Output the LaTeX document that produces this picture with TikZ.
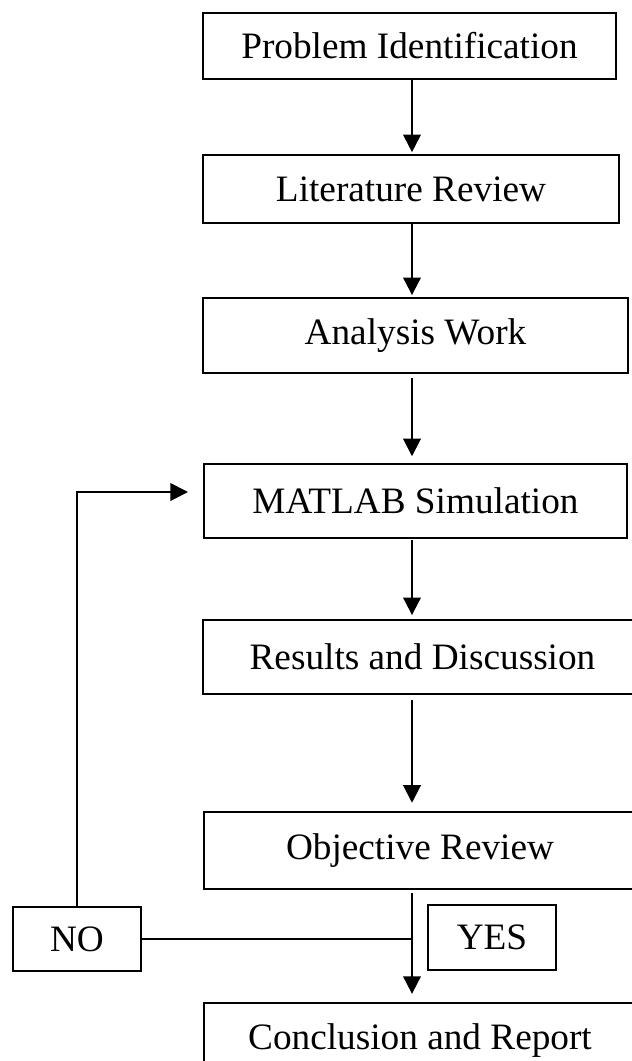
\documentclass[tikz,border=0pt]{standalone}
\usepackage{fontspec}
\setmainfont{Liberation Serif}
\usetikzlibrary{positioning,arrows.meta}
\tikzset{>={Triangle[length=12.5pt,width=12.5pt]}}
\tikzset{
  stage/.style={draw, line width=1.4pt, outer sep=0pt, inner sep=0pt,
    font=\fontsize{26.5}{30}\selectfont},
  flow/.style={->, line width=1.4pt}
}

\begin{document}
\begin{tikzpicture}[x=0.025cm, y=-0.025cm]
      \useasboundingbox (0,0) rectangle (632,1061);
      \clip (0,0) rectangle (632,1061);
      \coordinate (spine) at (412,0);
      \node[stage, minimum width=10.33cm, minimum height=1.65cm] (prob) at (409.5,46) {Problem Identification};
      \node[stage, minimum width=10.4cm, minimum height=1.7cm] (lit) at (411,189) {Literature Review};
      \node[stage, minimum width=10.63cm, minimum height=1.88cm] (anal) at (415.5,335.5) {Analysis Work};
      \node[stage, minimum width=10.58cm, minimum height=1.85cm] (sim) at (415.5,501) {MATLAB Simulation};
      \node[stage, minimum width=10.98cm, minimum height=1.85cm] (res) at (422.5,657) {Results and Discussion};
      \node[stage, minimum width=10.8cm, minimum height=1.93cm] (obj) at (420,850.5) {Objective Review};
      \node[stage, minimum width=10.8cm, minimum height=1.9cm] (conc) at (420,1041) {Conclusion and Report};
      \node[stage, minimum width=3.2cm, minimum height=1.6cm] (no) at (77,939) {NO};
      \node[stage, minimum width=3.2cm, minimum height=1.63cm] (yes) at (492,937.5) {YES};
      \coordinate (loopend) at (188,492);
      \draw[flow, shorten >=2pt] (prob.south -| spine) -- (lit.north -| spine);
      \draw[flow, shorten >=2pt] (lit.south -| spine) -- (anal.north -| spine);
      \draw[flow, shorten <=3.5pt, shorten >=5.5pt] (anal.south -| spine) -- (sim.north -| spine);
      \draw[flow, shorten <=1.5pt, shorten >=3.5pt] (sim.south -| spine) -- (res.north -| spine);
      \draw[flow, shorten <=4pt, shorten >=6.5pt] (res.south -| spine) -- (obj.north -| spine);
      \draw[flow, shorten <=3pt, shorten >=6.5pt] (obj.south -| spine) -- (conc.north -| spine);
      \draw[line width=1.4pt] (no.east) -- (no.east -| spine);
      \draw[flow] (no.north) |- (loopend);
    \end{tikzpicture}
\end{document}
